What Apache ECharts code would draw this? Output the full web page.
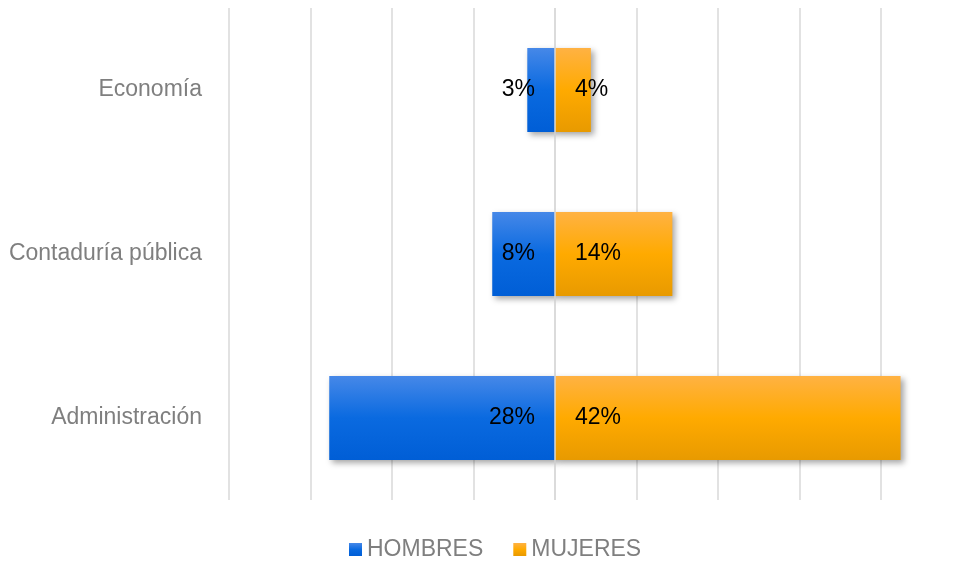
<!DOCTYPE html>
<html>
<head>
<meta charset="utf-8">
<script src="https://cdn.jsdelivr.net/npm/echarts@6/dist/echarts.min.js"></script>
<style>
  html, body { margin: 0; padding: 0; background: #fff; }
  #chart { width: 958px; height: 562px; }
</style>
</head>
<body>
<div id="chart"></div>
<script>
const categories = ['Economía', 'Contaduría pública', 'Administración']
const hombres = [3.4, 7.7, 27.7]
const mujeres = [4.4, 14.4, 42.4]
const seriesNames = ['HOMBRES', 'MUJERES']

const font = 'Liberation Sans, Arial, sans-serif'

const blueFill = new echarts.graphic.LinearGradient(0, 0, 0, 1, [
  { offset: 0, color: '#4688e8' },
  { offset: 0.5, color: '#0a6ae0' },
  { offset: 1, color: '#005ed6' }
])
const orangeFill = new echarts.graphic.LinearGradient(0, 0, 0, 1, [
  { offset: 0, color: '#ffb243' },
  { offset: 0.5, color: '#ffaa00' },
  { offset: 1, color: '#e89a00' }
])

const barShadow = {
  shadowColor: 'rgba(0, 0, 0, 0.35)',
  shadowBlur: 6,
  shadowOffsetX: 3,
  shadowOffsetY: 3
}

const pct = (p) => Math.round(Math.abs(p.value)) + '%'

const option = {
  animation: false,
  grid: { left: 229, right: 77, top: 8, bottom: 62 },
  legend: {
    data: seriesNames,
    left: 349,
    top: 538,
    padding: 0,
    icon: 'rect',
    itemWidth: 13,
    itemHeight: 13,
    itemGap: 30,
    textStyle: { color: '#7f7f7f', fontSize: 23, fontFamily: font }
  },
  xAxis: {
    type: 'value',
    min: -40,
    max: 40,
    interval: 10,
    axisLabel: { show: false },
    axisLine: { show: false },
    axisTick: { show: false },
    splitLine: { lineStyle: { color: '#d9d9d9', width: 1.5 } }
  },
  yAxis: {
    type: 'category',
    inverse: true,
    data: categories,
    axisLine: { show: false, onZero: false },
    axisTick: { show: false },
    axisLabel: { margin: 27, color: '#7f7f7f', fontSize: 23, fontFamily: font }
  },
  series: [
    {
      name: seriesNames[0],
      type: 'bar',
      stack: 'total',
      barWidth: 84,
      clip: false,
      data: hombres.map(v => -v),
      itemStyle: Object.assign({ color: blueFill }, barShadow),
      label: {
        show: true,
        position: 'insideRight',
        distance: 20,
        formatter: pct,
        color: '#000',
        fontSize: 23,
        fontFamily: font
      },
      markLine: {
        silent: true,
        symbol: 'none',
        label: { show: false },
        lineStyle: { color: '#d9d9d9', type: 'solid', width: 1.5 },
        data: [{ xAxis: 0 }]
      }
    },
    {
      name: seriesNames[1],
      type: 'bar',
      stack: 'total',
      barWidth: 84,
      clip: false,
      data: mujeres,
      itemStyle: Object.assign({ color: orangeFill }, barShadow),
      label: {
        show: true,
        position: 'insideLeft',
        distance: 20,
        formatter: pct,
        color: '#000',
        fontSize: 23,
        fontFamily: font
      }
    }
  ]
}

echarts.init(document.getElementById('chart')).setOption(option)
</script>
</body>
</html>
